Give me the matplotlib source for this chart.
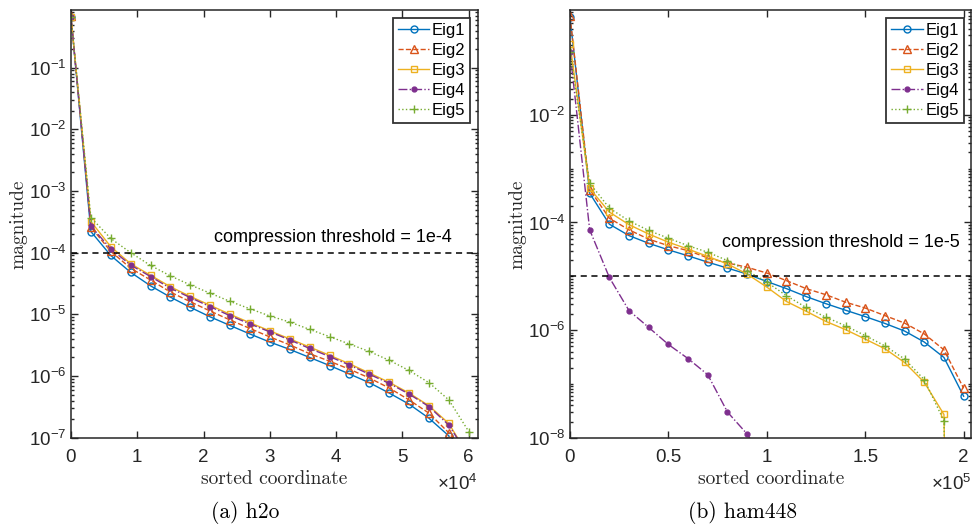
import numpy as np
import matplotlib
matplotlib.use("Agg")
import matplotlib.pyplot as plt
from matplotlib.ticker import FixedLocator, NullFormatter, FuncFormatter

# ---------------- data: (a) h2o ----------------
x_h2o = np.arange(0, 60001, 3000)  # sorted coordinate
h2o_eig1 = [0.67, 2.2e-4, 9.0e-5, 4.8e-5, 2.9e-5, 1.9e-5, 1.3e-5, 9.1e-6, 6.6e-6, 4.8e-6, 3.55e-6,
            2.7e-6, 2.0e-6, 1.48e-6, 1.08e-6, 7.8e-7, 5.3e-7, 3.5e-7, 2.07e-7, 1.07e-7, 1.0e-8]
h2o_eig2 = [0.68, 2.6e-4, 1.05e-4, 5.6e-5, 3.6e-5, 2.3e-5, 1.6e-5, 1.13e-5, 8.1e-6, 5.9e-6, 4.3e-6,
            3.2e-6, 2.3e-6, 1.74e-6, 1.29e-6, 9.3e-7, 6.4e-7, 4.1e-7, 2.5e-7, 1.2e-7, 5e-8]
h2o_eig3 = [0.66, 3.2e-4, 1.25e-4, 6.6e-5, 4.3e-5, 2.8e-5, 1.95e-5, 1.4e-5, 1.0e-5, 7.3e-6, 5.4e-6,
            4.0e-6, 2.95e-6, 2.17e-6, 1.58e-6, 1.12e-6, 7.9e-7, 5.3e-7, 3.3e-7, 1.7e-7, 5e-8]
h2o_eig4 = [0.66, 2.7e-4, 1.15e-4, 6.3e-5, 4.1e-5, 2.65e-5, 1.87e-5, 1.33e-5, 9.5e-6, 7.0e-6, 5.2e-6,
            3.85e-6, 2.8e-6, 2.07e-6, 1.51e-6, 1.07e-6, 7.6e-7, 5.1e-7, 3.2e-7, 1.6e-7, 5e-8]
h2o_eig5 = [0.65, 3.7e-4, 1.7e-4, 1.0e-4, 6.2e-5, 4.2e-5, 3.0e-5, 2.2e-5, 1.62e-5, 1.23e-5, 9.4e-6,
            7.5e-6, 5.7e-6, 4.35e-6, 3.3e-6, 2.5e-6, 1.8e-6, 1.23e-6, 7.8e-7, 4.1e-7, 1.26e-7]
h2o_threshold = 1e-4

# ---------------- data: (b) ham448 ----------------
x_ham = np.arange(0, 200001, 10000)
ham_eig1 = [0.65, 3.5e-4, 9.3e-5, 5.7e-5, 4.1e-5, 3.1e-5, 2.4e-5, 1.83e-5, 1.42e-5, 1.1e-5, 8.0e-6,
            5.9e-6, 4.2e-6, 3.1e-6, 2.34e-6, 1.78e-6, 1.33e-6, 9.6e-7, 6.0e-7, 3.1e-7, 5.9e-8]
ham_eig2 = [0.68, 4.1e-4, 1.2e-4, 7.3e-5, 4.9e-5, 3.7e-5, 3.0e-5, 2.2e-5, 1.77e-5, 1.47e-5, 1.15e-5,
            8.3e-6, 5.9e-6, 4.55e-6, 3.3e-6, 2.57e-6, 1.86e-6, 1.35e-6, 8.5e-7, 4.3e-7, 8.3e-8]
ham_eig3 = [0.21, 4.3e-4, 1.56e-4, 9.1e-5, 6.1e-5, 4.3e-5, 3.2e-5, 2.34e-5, 1.7e-5, 1.1e-5, 6.3e-6,
            3.4e-6, 2.24e-6, 1.45e-6, 1.02e-6, 6.8e-7, 4.5e-7, 2.5e-7, 1.07e-7, 2.7e-8, 1e-30]
ham_eig4 = [0.15, 7.3e-5, 9.5e-6, 2.3e-6, 1.12e-6, 5.4e-7, 2.95e-7, 1.48e-7, 3.0e-8, 1.17e-8, 3e-9,
            np.nan, np.nan, np.nan, np.nan, np.nan, np.nan, np.nan, np.nan, np.nan, np.nan]
ham_eig5 = [0.15, 5.4e-4, 1.85e-4, 1.07e-4, 7.1e-5, 5.1e-5, 3.7e-5, 2.8e-5, 1.96e-5, 1.26e-5, 7.8e-6,
            4.35e-6, 2.63e-6, 1.74e-6, 1.2e-6, 7.9e-7, 5.1e-7, 2.9e-7, 1.2e-7, 2.05e-8, 1e-30]
ham_threshold = 1e-5

labels = ["Eig1", "Eig2", "Eig3", "Eig4", "Eig5"]

# ---------------- style ----------------
colors = ["#0072BD", "#D95319", "#EDB120", "#7E2F8E", "#77AC30"]
styles = [
    dict(ls="-", marker="o", mfc="none", ms=5),
    dict(ls="--", marker="^", mfc="none", ms=5.5),
    dict(ls="-", marker="s", mfc="none", ms=4.5),
    dict(ls="-.", marker="o", ms=3.5),
    dict(ls=":", marker="+", ms=6),
]
AX_COLOR = "#262626"
SANS = ["Liberation Sans", "DejaVu Sans"]
SERIF = ["cmr10", "DejaVu Serif"]
plt.rcParams["font.family"] = SANS
plt.rcParams["axes.formatter.use_mathtext"] = True
plt.rcParams["mathtext.fontset"] = "custom"
plt.rcParams["mathtext.rm"] = "Liberation Sans"
plt.rcParams["mathtext.it"] = "Liberation Sans:italic"
plt.rcParams["mathtext.default"] = "regular"

fig = plt.figure(figsize=(9.78, 5.27), dpi=100)
W, H = 978, 527


def px_axes(l, t, r, b):
    return fig.add_axes([l / W, 1 - b / H, (r - l) / W, (b - t) / H])


def style_axes(ax, yticks, ylim, xlim, xticks, xticklabels, mult):
    ax.set_yscale("log")
    ax.set_xlim(*xlim)
    ax.set_ylim(*ylim)
    ax.yaxis.set_major_locator(FixedLocator(yticks))
    ax.yaxis.set_major_formatter(FuncFormatter(lambda v, p: r"$10^{%d}$" % int(round(np.log10(v)))))
    lo, hi = int(np.floor(np.log10(ylim[0]))), int(np.ceil(np.log10(ylim[1])))
    minors = [m * 10.0 ** e for e in range(lo, hi) for m in range(1, 10)]
    minors = [v for v in minors if v not in yticks]
    ax.yaxis.set_minor_locator(FixedLocator(minors))
    ax.yaxis.set_minor_formatter(NullFormatter())
    ax.set_xticks(xticks)
    ax.set_xticklabels(xticklabels)
    ax.tick_params(which="both", direction="in", top=True, right=True, colors=AX_COLOR,
                   labelsize=13.5, width=1.0)
    ax.tick_params(which="major", length=5)
    ax.tick_params(which="minor", length=2.5)
    ax.tick_params(axis="x", pad=8)
    for s in ax.spines.values():
        s.set_color(AX_COLOR)
        s.set_linewidth(1.1)
    ax.set_xlabel("sorted coordinate", family=SERIF, fontsize=14, color=AX_COLOR, labelpad=3)
    ax.set_ylabel("magnitude", family=SERIF, fontsize=14, color=AX_COLOR, labelpad=1)
    ax.text(1.0, -0.085, r"$\times10^{%d}$" % mult, transform=ax.transAxes, ha="right", va="top",
            fontsize=13.5, color=AX_COLOR)
    leg = ax.legend(loc="upper right", fontsize=12, frameon=True, fancybox=False,
                    edgecolor="black", borderpad=0.3, labelspacing=0.3, handlelength=1.9,
                    handletextpad=0.15, borderaxespad=0.45)
    leg.get_frame().set_linewidth(1.3)


# ---------------- (a) h2o ----------------
ax1 = px_axes(71, 10, 478, 437.7)
for lab, ys, c, st in zip(labels, [h2o_eig1, h2o_eig2, h2o_eig3, h2o_eig4, h2o_eig5], colors, styles):
    ax1.plot(x_h2o, ys, color=c, lw=1.0, mew=1.0, label=lab, **st)
ax1.axhline(h2o_threshold, color="black", ls="--", lw=1.1, dashes=(4, 3))
ax1.text(57500, 1.3e-4, "compression threshold = 1e-4", ha="right", va="bottom", fontsize=13,
         color="black")
style_axes(ax1, [1e-7, 1e-6, 1e-5, 1e-4, 1e-3, 1e-2, 1e-1], (1e-7, 0.86), (0, 61400),
           np.arange(0, 60001, 10000), [str(i) for i in range(7)], 4)
fig.text(245 / W, 1 - 513 / H, "(a) h2o", family=SERIF, fontsize=15.5, ha="center", va="center")

# ---------------- (b) ham448 ----------------
ax2 = px_axes(570, 10, 971.5, 437.7)
for lab, ys, c, st in zip(labels, [ham_eig1, ham_eig2, ham_eig3, ham_eig4, ham_eig5], colors, styles):
    ax2.plot(x_ham, ys, color=c, lw=1.0, mew=1.0, label=lab, **st)
ax2.axhline(ham_threshold, color="black", ls="--", lw=1.1, dashes=(4, 3))
ax2.text(198000, 2.9e-5, "compression threshold = 1e-5", ha="right", va="bottom", fontsize=13,
         color="black")
style_axes(ax2, [1e-8, 1e-6, 1e-4, 1e-2], (1e-8, 0.89), (0, 204000),
           [0, 50000, 100000, 150000, 200000], ["0", "0.5", "1", "1.5", "2"], 5)
fig.text(743 / W, 1 - 513 / H, "(b) ham448", family=SERIF, fontsize=15.5, ha="center", va="center")

fig.savefig("out.png", dpi=100)
